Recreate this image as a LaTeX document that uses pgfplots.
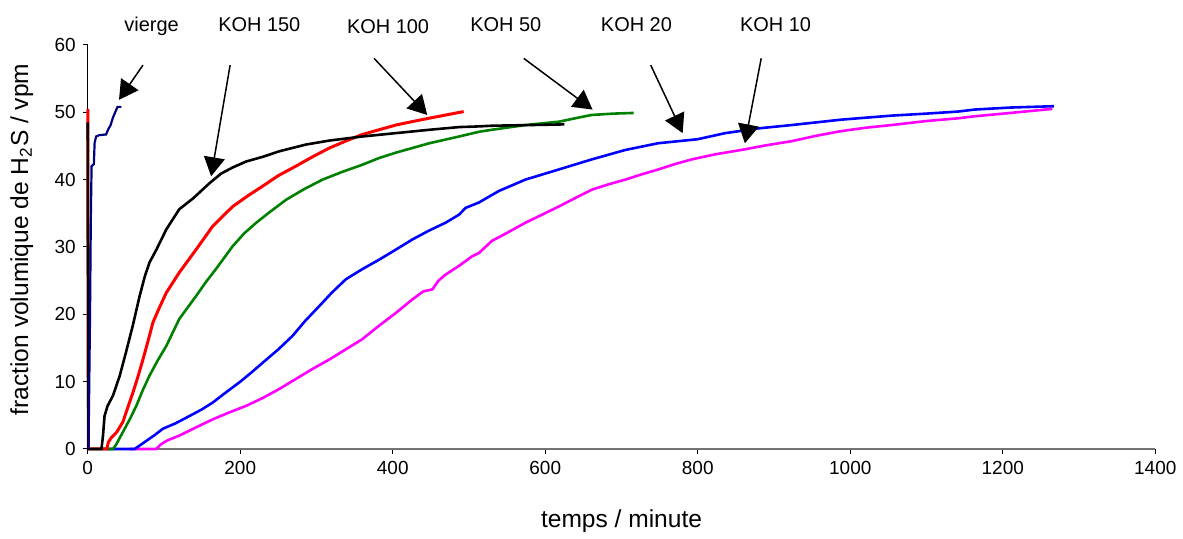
\documentclass[border=0pt]{standalone}
\usepackage{fontspec}
\setmainfont{Liberation Sans}
\usepackage{pgfplots}
\pgfplotsset{compat=1.18}
\usetikzlibrary{arrows.meta}
\definecolor{navyc}{RGB}{0,0,128}
\definecolor{greenc}{RGB}{0,128,0}
\definecolor{bluec}{RGB}{0,0,255}
\definecolor{magc}{RGB}{255,0,255}
\definecolor{redc}{RGB}{255,0,0}
\begin{document}
\begin{tikzpicture}
\begin{axis}[
  width=535pt, height=202.5pt, scale only axis,
  xmin=0, xmax=1400, ymin=0, ymax=60,
  axis x line*=bottom, axis y line*=left,
  axis line style={-},
  x axis line style={draw=black!55, line width=0.9pt},
  y axis line style={draw=black, line width=0.5pt},
  xtick={0,200,...,1400}, ytick={0,10,...,60},
  tick align=outside, major tick length=2.5pt,
  tick style={black, line width=0.5pt},
  clip=false,
  /pgf/number format/assume math mode=true,
  /pgf/number format/1000 sep={},
  tick label style={font=\fontsize{9.5}{11}\selectfont},
  xlabel={temps / minute},
  ylabel={fraction volumique de H\textsubscript{2}S / vpm},
  label style={font=\fontsize{12.3}{14}\selectfont},
  xlabel style={at={(axis description cs:0.5,-0.178)}, anchor=center},
  ylabel style={at={(axis description cs:-0.0617,0.5185)}, anchor=center},
]
% KOH 10
\addplot[magc, line width=1.3pt] coordinates {
(55,0)(90,0)(95,0.6)(103,1.2)(120.4,2)(140,3.1)(164,4.4)(185,5.4)(207.6,6.4)(230,7.6)(251,8.9)(273,10.4)(295,11.9)(317,13.3)(338.5,14.8)(360,16.3)(382,18.3)(404,20.2)(425.6,22.2)(440,23.4)(452,23.7)(460,25)(469.3,25.9)(487,27.2)(504,28.6)(513,29.1)(530,30.9)(550,32.1)(574,33.6)(596,34.8)(617.6,36)(640,37.3)(661,38.5)(683,39.3)(705,40)(727,40.8)(748,41.5)(770,42.3)(792,43)(825,43.8)(857,44.4)(890,45.1)(923,45.7)(955,46.5)(988,47.2)(1020,47.7)(1054,48.1)(1100,48.7)(1141,49.1)(1163,49.4)(1210,49.9)(1265,50.5)
};
% KOH 20
\addplot[bluec, line width=1.3pt] coordinates {
(25,0)(61.5,0)(68,0.5)(76.8,1.2)(87,2)(98.5,3)(115,3.8)(133.5,4.9)(150,5.9)(164,6.9)(180,8.3)(199,9.9)(214,11.3)(229.4,12.8)(250,14.8)(268.6,16.8)(285,19)(303.5,21.2)(320,23.2)(338.5,25.2)(360,26.7)(382,28.1)(404,29.6)(425.6,31.1)(447,32.4)(469.3,33.6)(487,34.8)(495.5,35.8)(513,36.6)(539,38.3)(574,40)(617.6,41.5)(661,43)(705,44.4)(748,45.4)(800,46)(836,46.9)(879,47.6)(923,48.1)(988,48.9)(1054,49.5)(1100,49.8)(1141,50.1)(1163,50.4)(1210,50.7)(1267,50.9)
};
% KOH 50
\addplot[greenc, line width=1.3pt] coordinates {
(20,0)(33,0)(37,0.6)(46,2.5)(55,4.4)(63.7,6.4)(72,8.7)(81,10.9)(92,13.2)(103,15.3)(120,19.3)(142,22.7)(155,24.8)(168,26.7)(190,30.1)(205,32)(221,33.6)(240,35.3)(260,37)(284,38.6)(308,40)(335,41.2)(360,42.2)(382,43.2)(404,44)(426,44.7)(448,45.4)(487,46.4)(513,47.1)(530,47.4)(574,48.1)(618,48.6)(639,49.1)(661,49.6)(690,49.8)(716,49.9)
};
% KOH 100
\addplot[redc, line width=1.5pt] coordinates {
(0,50.5)(0.8,0)(25,0)(27,1)(31,1.7)(38,2.5)(46,4)(52,6)(59.3,8.4)(66,10.8)(72.4,13.3)(79,16)(85.5,18.8)(94,21)(103,23.2)(120,26.2)(142,29.6)(164,33.1)(190,36)(210,37.6)(229,39)(250,40.6)(273,42)(295,43.4)(317,44.7)(340,45.8)(360,46.7)(382,47.4)(404,48.1)(425,48.6)(447,49.1)(470,49.6)(493,50.1)
};
% KOH 150
\addplot[black, line width=1.3pt] coordinates {
(0,48.5)(0.8,0)(18,0)(20,2)(22,4.9)(26,6.4)(33,7.9)(42,10.9)(50,14.3)(59,18.3)(68,22.7)(75,25.7)(81,27.7)(90,29.6)(103,32.6)(120,35.6)(138,37.2)(160,39.5)(175,40.9)(190,41.8)(208,42.7)(230,43.4)(251,44.2)(286,45.2)(317,45.8)(360,46.4)(404,46.9)(448,47.4)(487,47.8)(513,47.9)(530,48)(580,48.1)(625,48.2)
};
% vierge
\addplot[navyc, line width=1.1pt] coordinates {
(1,0)(3,20)(4,34)(5,42)(8,42.3)(9,45.5)(11,46.4)(15,46.6)(24,46.7)(27,47.5)(30,48.1)(33,49.2)(36,50)(39,50.8)(44,50.8)
};
% annotations
\tikzset{lab/.style={anchor=base, font=\fontsize{10}{12}\selectfont},
         arr/.style={-{Triangle[length=9.5pt,width=10.5pt]}, line width=0.75pt}}
\node[lab] at (axis cs:83.7,61.93) {vierge};
\node[lab] at (axis cs:225,61.93) {KOH 150};
\node[lab] at (axis cs:393.8,61.7) {KOH 100};
\node[lab] at (axis cs:548.2,61.93) {KOH 50};
\node[lab] at (axis cs:719.6,61.93) {KOH 20};
\node[lab] at (axis cs:902.1,61.93) {KOH 10};
\draw[arr] (axis cs:72.4,57.0) -- (axis cs:41,51.85);
\draw[arr] (axis cs:186.7,57.0) -- (axis cs:161.8,40.5);
\draw[arr] (axis cs:375.5,58.0) -- (axis cs:445.2,49.6);
\draw[arr] (axis cs:571.8,58.0) -- (axis cs:662,50.4);
\draw[arr] (axis cs:738.3,57.0) -- (axis cs:780.2,46.9);
\draw[arr] (axis cs:883.2,58.0) -- (axis cs:861.8,45.4);
\coordinate (bbl) at (axis cs:-115.1,-12);
\coordinate (btr) at (axis cs:1432.7,66.67);
\end{axis}
\path (bbl) rectangle (btr);
\end{tikzpicture}
\end{document}
